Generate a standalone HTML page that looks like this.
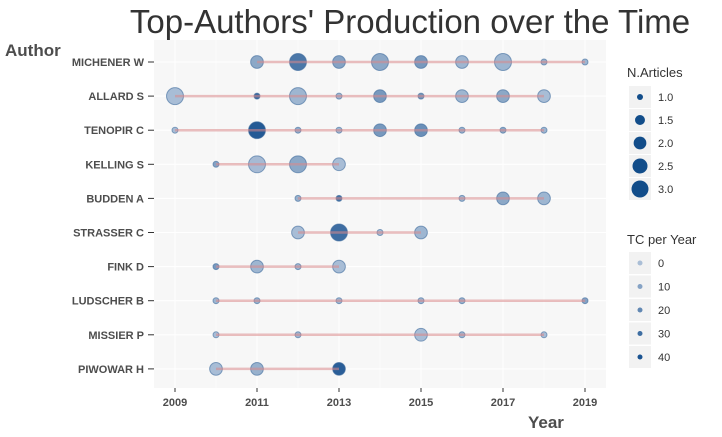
<!DOCTYPE html>
<html><head><meta charset="utf-8"><style>
body{margin:0;background:#fff;}
svg{display:block;font-family:"Liberation Sans",Arial,sans-serif;}
</style></head><body>
<svg id="chart" width="722" height="437">
<rect x="154" y="40" width="452" height="348" fill="#f7f7f7"/>
<g id="grid"></g><g id="marks"></g><g id="axes"></g>
<text x="410" y="33" font-size="33" fill="#333" text-anchor="middle">Top-Authors' Production over the Time</text>
<text x="5" y="56" font-size="17" font-weight="bold" fill="#4d4d4d">Author</text>
<text x="528" y="428" font-size="17" font-weight="bold" fill="#4d4d4d">Year</text>
<g id="legend"></g>
</svg>
<script>
const authors=["MICHENER W","ALLARD S","TENOPIR C","KELLING S","BUDDEN A","STRASSER C","FINK D","LUDSCHER B","MISSIER P","PIWOWAR H"];
const years=[[2011,2012,2013,2014,2015,2016,2017,2018,2019],[2009,2011,2012,2013,2014,2015,2016,2017,2018],[2009,2011,2012,2013,2014,2015,2016,2017,2018],[2010,2011,2012,2013],[2012,2013,2016,2017,2018],[2012,2013,2014,2015],[2010,2011,2012,2013],[2010,2011,2013,2015,2016,2019],[2010,2012,2015,2016,2018],[2010,2011,2013]];
const articles=[[2,3,2,3,2,2,3,1,1],[3,1,3,1,2,1,2,2,2],[1,3,1,1,2,2,1,1,1],[1,3,3,2],[1,1,1,2,2],[2,3,1,2],[1,2,1,2],[1,1,1,1,1,1],[1,1,2,1,1],[2,2,2]];
const tcs=[[12,32,14,12,18,6,6,8,6],[3,38,6,6,18,20,6,12,3],[3,44,10,6,18,22,8,12,6],[14,4,12,3],[8,34,6,12,6],[3,36,3,6],[18,6,6,3],[6,8,6,6,8,14],[3,6,3,6,3],[3,8,42]];
const xTicks=[2009,2011,2013,2015,2017,2019];
const nLegend=[1.0,1.5,2.0,2.5,3.0];
const tcLegend=[0,10,20,30,40];
const NS="http://www.w3.org/2000/svg";
const x=y=>175+(y-2009)*41;
const yPos=i=>62+i*34.1;
const r=n=>Math.sqrt(Math.max(1,-22.5+31.5*n));
function col(t){const f=Math.min(1,t/44);const a=[170,190,214],b=[12,72,138];
return `rgb(${Math.round(a[0]+(b[0]-a[0])*f)},${Math.round(a[1]+(b[1]-a[1])*f)},${Math.round(a[2]+(b[2]-a[2])*f)})`;}
function mk(tag,at,p){const e=document.createElementNS(NS,tag);for(const k in at)e.setAttribute(k,at[k]);p.appendChild(e);return e;}
const grid=document.getElementById('grid'),marks=document.getElementById('marks'),axes=document.getElementById('axes'),leg=document.getElementById('legend');
for(let yr=2009;yr<=2019;yr++){const g=mk('line',{x1:x(yr),x2:x(yr),y1:40,y2:388,stroke:'#fff','stroke-width':yr%2?1.1:0.5},grid);
}
authors.forEach((a,i)=>{const gl=mk('line',{x1:154,x2:606,y1:yPos(i),y2:yPos(i),stroke:'#fff','stroke-width':1.1},grid);

const t=mk('text',{x:144,y:yPos(i)+4,'font-size':11,'font-weight':'bold',fill:'#4d4d4d','text-anchor':'end'},axes);t.textContent=a;

const tk=mk('line',{x1:148,x2:154,y1:yPos(i),y2:yPos(i),stroke:'#333'},axes);

const ys=years[i];
ys.forEach((yr,j)=>{const c=mk('circle',{cx:x(yr),cy:yPos(i),r:r(articles[i][j]),fill:col(tcs[i][j]),'fill-opacity':0.9,stroke:'#3e6a9c','stroke-opacity':0.6},marks);
});
const ln=mk('line',{x1:x(Math.min(...ys)),x2:x(Math.max(...ys)),y1:yPos(i),y2:yPos(i),stroke:'#d9888a','stroke-opacity':0.55,'stroke-width':2.5},marks);
});
xTicks.forEach(v=>{const tk=mk('line',{x1:x(v),x2:x(v),y1:388,y2:392,stroke:'#333'},axes);

const t=mk('text',{x:x(v),y:406,'font-size':11,'font-weight':'bold',fill:'#4d4d4d','text-anchor':'middle'},axes);t.textContent=v;
});
let t=mk('text',{x:627,y:77,'font-size':13,fill:'#333'},leg);t.textContent='N.Articles';

nLegend.forEach((n,k)=>{const yy=86+k*23;mk('rect',{x:629,y:yy,width:22,height:22,fill:'#f2f2f2'},leg);
const c=mk('circle',{cx:640,cy:yy+11,r:r(n),fill:'#124d8a'},leg);
const l=mk('text',{x:658,y:yy+15,'font-size':11,fill:'#333'},leg);l.textContent=n.toFixed(1);
});
t=mk('text',{x:627,y:244,'font-size':13,fill:'#333'},leg);t.textContent='TC per Year';

tcLegend.forEach((v,k)=>{const yy=252+k*23.5;mk('rect',{x:629,y:yy,width:22,height:22,fill:'#f2f2f2'},leg);
const c=mk('circle',{cx:640,cy:yy+11,r:2.5,fill:col(v)},leg);
const l=mk('text',{x:658,y:yy+15,'font-size':11,fill:'#333'},leg);l.textContent=v;
});
</script>
</body></html>
